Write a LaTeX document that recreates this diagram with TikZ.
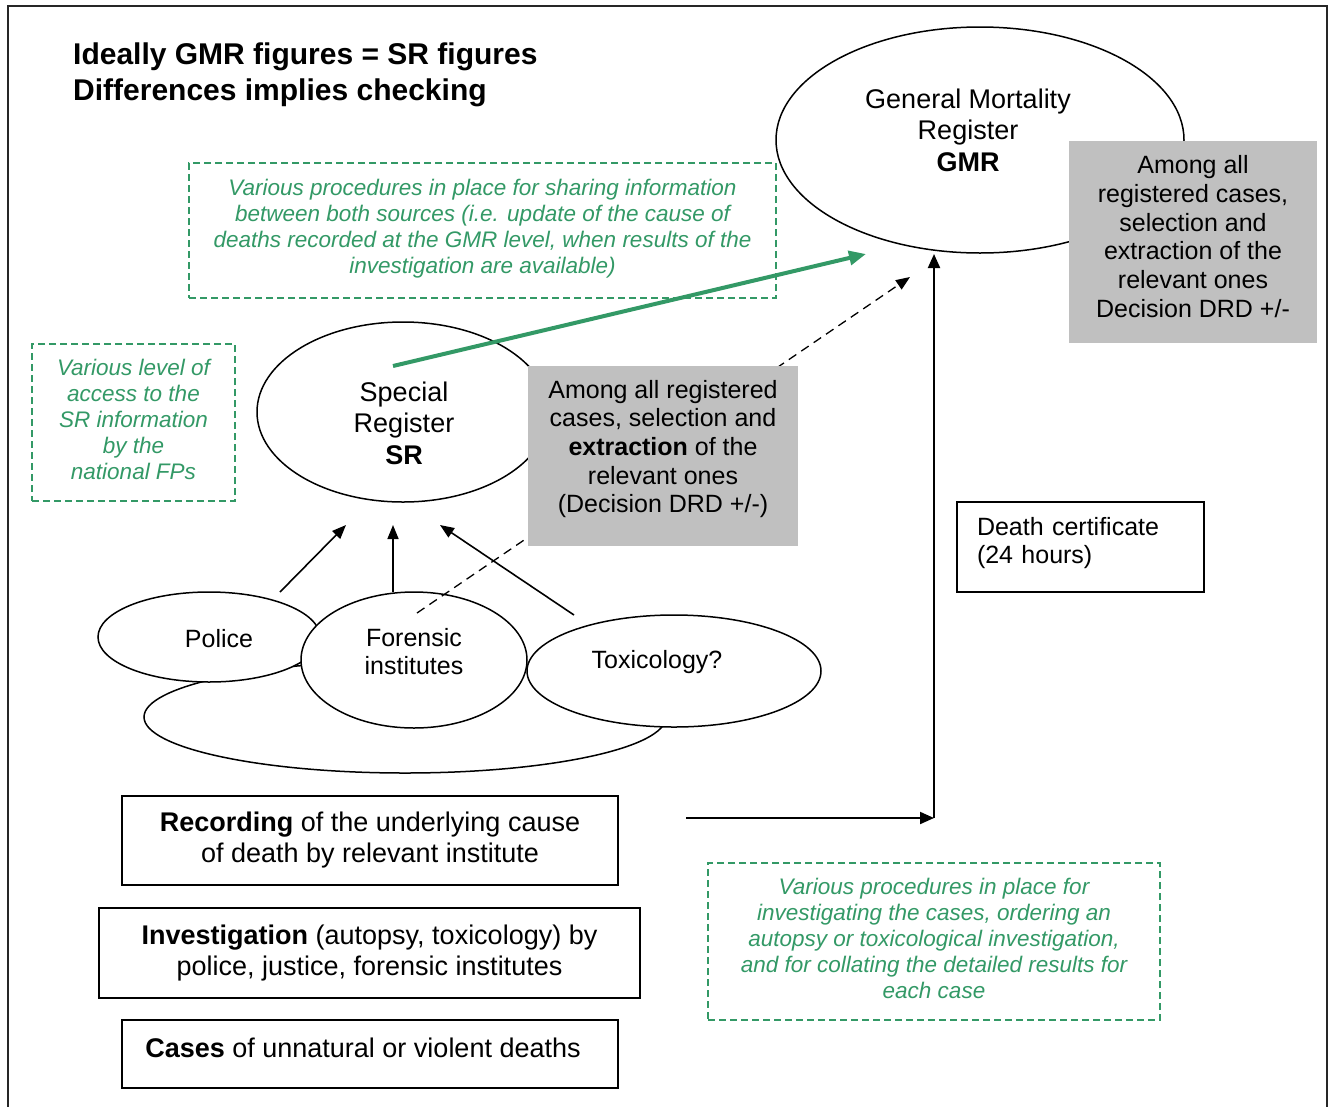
\documentclass[tikz,border=0pt]{standalone}
\usepackage{fontspec}
\setmainfont{Liberation Sans}
\usetikzlibrary{shapes.geometric,arrows.meta}
\definecolor{sgreen}{RGB}{51,153,102}
\definecolor{boxgray}{RGB}{192,192,192}
\newcommand\dropd[1]{\rule[-#1]{0pt}{#1}}
\begin{document}
\begin{tikzpicture}[x=1pt,y=-1pt,
  ell/.style={ellipse,draw,line width=1.5pt,fill=white,inner sep=0pt},
  fbox/.style={rectangle,draw,line width=1.8pt,inner sep=0pt,align=center,font=\fontsize{27}{31}\selectfont},
  gbox/.style={rectangle,fill=boxgray,inner sep=0pt,align=center,font=\fontsize{25}{28.7}\selectfont},
  gdash/.style={rectangle,draw=sgreen,line width=1.5pt,dash pattern=on 7pt off 4pt,inner sep=0pt,align=center,text=sgreen,font=\fontsize{22.5}{26}\selectfont\itshape},
  t27/.style={font=\fontsize{27}{31.5}\selectfont,align=center,inner sep=0pt},
  t25/.style={font=\fontsize{25}{28}\selectfont,align=center,inner sep=0pt},
  arr/.style={line width=1.6pt,-{Triangle[length=14pt,width=11pt]}},
  dashline/.style={line width=1.3pt,dash pattern=on 9pt off 6pt},
]
\useasboundingbox (0,0) rectangle (1332,1106);
\fill[white] (0,0) rectangle (1332,1106);
% frame
\draw[line width=1.8pt,black!85] (8,1110) -- (8,6) -- (1327,6) -- (1327,1110);

% title
\node[anchor=north west,inner sep=0pt,align=left,font=\fontsize{30}{36}\selectfont\bfseries] (title) at (73,43)
  {Ideally GMR figures = SR figures\\Differences implies checking};

% green dashed notes
\node[gdash,minimum width=587,minimum height=135] (note1) at (482.5,230.5)
  {Various procedures in place for sharing information\\between both sources (i.e. update of the cause of\\deaths recorded at the GMR level, when results of the\\investigation are available)\dropd{9pt}};
\node[gdash,minimum width=203,minimum height=157] (note2) at (133.5,422.5)
  {Various level of\\access to the\\SR information\\by the\\national FPs\dropd{7pt}};
\node[gdash,minimum width=452,minimum height=157] (note3) at (934,941.5)
  {Various procedures in place for\\investigating the cases, ordering an\\autopsy or toxicological investigation,\\and for collating the detailed results for\\each case\dropd{6pt}};

% GMR
\node[ell,minimum width=408,minimum height=226] (gmr) at (980,140) {};
\node[t27] (gmrt) at (968,130) {General Mortality\\Register\\\textbf{GMR}};
\node[gbox,minimum width=248,minimum height=202] (gmrsel) at (1193,242)
  {Among all\\registered cases,\\selection and\\extraction of the\\relevant ones\\Decision DRD +/-\dropd{11pt}};

% SR
\node[ell,minimum width=292,minimum height=180] (sr) at (403,412) {};
\node[t27] (srt) at (404,423) {Special\\Register\\\textbf{SR}};

% lower ellipses
\node[ell,minimum width=522,minimum height=112] (base) at (405,717) {};
\node[ell,minimum width=222,minimum height=90] (police) at (209,637) {};
\node[t25] (policet) at (219,639) {Police};
\node[ell,minimum width=226,minimum height=136] (forensic) at (414,660) {};
\node[t25] (forensict) at (414,652) {Forensic\\institutes};
\node[ell,minimum width=294,minimum height=112] (toxic) at (674,671) {};
\node[t25] (toxict) at (657,662) {Toxicology?};

% dashed connector (passes under the grey box)
\coordinate (d1) at (417,613);
\coordinate (d2) at (910,277);
\draw[dashline,-{Triangle[length=14pt,width=11pt]}] (d1) -- (d2);

% middle grey box
\node[gbox,minimum width=270,minimum height=180] (srsel) at (663,456)
  {Among all registered\\cases, selection and\\\textbf{extraction} of the\\relevant ones\\(Decision DRD +/-)\dropd{19pt}};

% green arrow
\coordinate (g1) at (393,366);
\coordinate (g2) at (866,254);
\draw[sgreen,line width=4pt,-{Triangle[length=17pt,width=14pt]}] (g1) -- (g2);

% arrows to SR
\coordinate (a1s) at (280,592); \coordinate (a1e) at (346,525);
\coordinate (a2s) at (393,592); \coordinate (a2e) at (393,525);
\coordinate (a3s) at (574,615); \coordinate (a3e) at (440,525);
\draw[arr] (a1s) -- (a1e);
\draw[arr] (a2s) -- (a2e);
\draw[arr] (a3s) -- (a3e);

% death certificate
\node[rectangle,draw,line width=1.8pt,minimum width=247,minimum height=90,inner sep=0pt,
      text width=207pt,align=left,font=\fontsize{25}{28}\selectfont] (death) at (1080.5,547)
  {Death certificate\\(24 hours)\dropd{13pt}};

% bottom boxes
\node[fbox,minimum width=496,minimum height=89] (rec) at (370,840.5)
  {\textbf{Recording} of the underlying cause\\of death by relevant institute};
\node[fbox,minimum width=541,minimum height=90] (inv) at (369.5,953)
  {\textbf{Investigation} (autopsy, toxicology) by\\police, justice, forensic institutes};
\node[fbox,minimum width=496,minimum height=68] (cases) at (370,1054)
  {\textbf{Cases} of unnatural or violent deaths\hspace*{14pt}\dropd{12pt}};

% GMR feeding arrows
\coordinate (hs) at (686,818);
\coordinate (corner) at (934,818);
\coordinate (vtop) at (934,254);
\draw[line width=2pt,-{Triangle[length=14pt,width=12pt]}] (hs) -- (corner);
\draw[line width=2pt,-{Triangle[length=14pt,width=12pt]}] (corner) -- (vtop);
\end{tikzpicture}
\end{document}
